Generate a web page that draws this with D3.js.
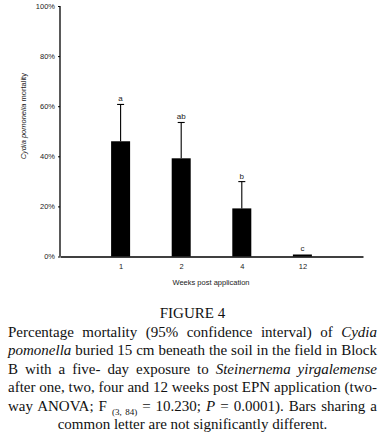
<!DOCTYPE html>
<html lang="en">
<head>
    <meta charset="UTF-8">
    <script src="https://d3js.org/d3.v7.min.js"></script>
    <title>Figure 4</title>
    <style>
        body {
            margin: 0;
            background: #fff;
            width: 387px;
            height: 434px;
            position: relative;
            overflow: hidden;
        }
        svg {
            position: absolute;
            left: 0;
            top: 0;
        }
        .axis text {
            font-family: 'Liberation Sans', Arial, sans-serif;
            font-size: 7.5px;
            fill: #222;
        }
        .caption {
            position: absolute;
            left: 8px;
            width: 369px;
            font-family: 'Liberation Serif', 'Times New Roman', serif;
            font-size: 15px;
            color: #111;
            white-space: nowrap;
            text-align: justify;
            text-align-last: justify;
        }
        .caption.center {
            text-align: center;
            text-align-last: center;
        }
        .caption sub {
            font-size: 9px;
            vertical-align: -4px;
        }
    </style>
</head>
<body>
    <script>
        // values
        const weeks = ['1', '2', '4', '12'];
        const mortality = [46, 39.2, 19.2, 0.8];
        const upperCI = [60.7, 53.5, 29.9, 0.8];
        const letters = ['a', 'ab', 'b', 'c'];
        const yTicks = [0, 20, 40, 60, 80, 100];

        const width = 387;
        const height = 290;
        const margin = { top: 6, left: 60, right: 24, bottom: 33.5 };

        const svg = d3.select('body').append('svg')
            .attr('width', width)
            .attr('height', height);

        // blank slots on each end so the bars sit away from the axes
        const xScale = d3.scalePoint()
            .domain(['_start'].concat(weeks, ['_end']))
            .range([margin.left, width - margin.right]);

        const yScale = d3.scaleLinear()
            .domain([0, 100])
            .range([height - margin.bottom, margin.top]);

        const barWidth = 19;
        const capWidth = 7;

        // bars
        svg.selectAll('rect.bar')
            .data(weeks)
            .enter().append('rect')
            .attr('class', 'bar')
            .attr('x', d => xScale(d) - barWidth / 2)
            .attr('y', (d, i) => yScale(mortality[i]))
            .attr('width', barWidth)
            .attr('height', (d, i) => yScale(0) - yScale(mortality[i]))
            .attr('fill', '#000');

        // 95% CI whiskers (upper only)
        const whisk = svg.selectAll('g.ci')
            .data(weeks.filter((d, i) => upperCI[i] > mortality[i]))
            .enter().append('g')
            .attr('class', 'ci')
            .attr('stroke', '#000')
            .attr('stroke-width', 1.1);

        whisk.append('line')
            .attr('x1', d => xScale(d))
            .attr('x2', d => xScale(d))
            .attr('y1', d => yScale(mortality[weeks.indexOf(d)]))
            .attr('y2', d => yScale(upperCI[weeks.indexOf(d)]));

        whisk.append('line')
            .attr('x1', d => xScale(d) - capWidth / 2)
            .attr('x2', d => xScale(d) + capWidth / 2)
            .attr('y1', d => yScale(upperCI[weeks.indexOf(d)]))
            .attr('y2', d => yScale(upperCI[weeks.indexOf(d)]));

        // significance letters
        svg.selectAll('text.letter')
            .data(weeks)
            .enter().append('text')
            .attr('class', 'letter')
            .text((d, i) => letters[i])
            .attr('x', d => xScale(d))
            .attr('y', (d, i) => yScale(Math.max(upperCI[i], mortality[i])) - 3)
            .attr('text-anchor', 'middle')
            .attr('font-family', 'Liberation Sans, Arial, sans-serif')
            .attr('font-size', '8px')
            .attr('fill', '#222');

        // y axis
        const yAxis = d3.axisLeft(yScale)
            .tickValues(yTicks)
            .tickFormat(d => d + '%')
            .tickSize(2)
            .tickPadding(3);

        const gy = svg.append('g')
            .attr('class', 'axis')
            .attr('transform', `translate(${margin.left}, 0)`)
            .call(yAxis);
        gy.select('.domain').remove();
        gy.selectAll('line').attr('stroke', '#000');
        gy.append('line')
            .attr('x1', 0).attr('x2', 0)
            .attr('y1', yScale(100)).attr('y2', yScale(0))
            .attr('stroke', '#000')
            .attr('stroke-width', 1.3);

        // x axis
        const xAxis = d3.axisBottom(xScale)
            .tickValues(weeks)
            .tickSize(0)
            .tickPadding(7);

        const gx = svg.append('g')
            .attr('class', 'axis')
            .attr('transform', `translate(0, ${yScale(0)})`)
            .call(xAxis);
        gx.select('.domain')
            .attr('stroke', '#000')
            .attr('stroke-width', 1.3);

        // axis titles
        svg.append('text')
            .attr('x', 211)
            .attr('y', 285)
            .attr('text-anchor', 'middle')
            .attr('font-family', 'Liberation Sans, Arial, sans-serif')
            .attr('font-size', '7.5px')
            .attr('fill', '#222')
            .text('Weeks post application');

        const yTitle = svg.append('text')
            .attr('transform', `translate(26, ${yScale(56)}) rotate(-90)`)
            .attr('text-anchor', 'middle')
            .attr('font-family', 'Liberation Sans, Arial, sans-serif')
            .attr('font-size', '7.5px')
            .attr('fill', '#222');
        yTitle.append('tspan').attr('font-style', 'italic').text('Cydia pomonella');
        yTitle.append('tspan').text(' mortality');

        // caption
        const captionLines = [
            { html: 'FIGURE 4', center: true, top: 304 },
            { html: 'Percentage mortality (95% confidence interval) of <i>Cydia</i>', top: 322.5 },
            { html: '<i>pomonella</i> buried 15 cm beneath the soil in the field in Block', top: 341 },
            { html: 'B with a five- day exposure to <i>Steinernema yirgalemense</i>', top: 359.5 },
            { html: 'after one, two, four and 12 weeks post EPN application (two-', top: 378 },
            { html: 'way ANOVA; F <sub>(3, 84)</sub> = 10.230; <i>P</i> = 0.0001). Bars sharing a', top: 396.5 },
            { html: 'common letter are not significantly different.', center: true, top: 414.5 }
        ];

        d3.select('body').selectAll('div.caption')
            .data(captionLines)
            .enter().append('div')
            .attr('class', d => d.center ? 'caption center' : 'caption')
            .style('top', d => d.top + 'px')
            .style('line-height', '18px')
            .html(d => d.html);
    </script>
</body>
</html>
